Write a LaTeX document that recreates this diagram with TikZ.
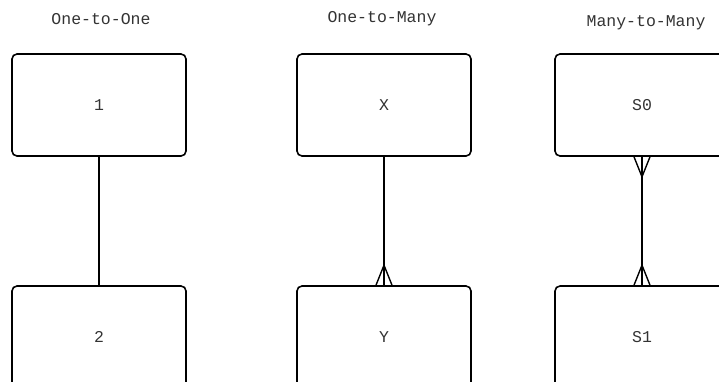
\documentclass[tikz,border=0pt]{standalone}
\usepackage{fontspec}
\setmonofont{Liberation Mono}
\usetikzlibrary{calc}
\begin{document}
\begin{tikzpicture}[x=1pt,y=1pt,
  entity/.style={draw, line width=1.6pt, rounded corners=5pt,
    minimum width=174pt, minimum height=102pt, inner sep=0pt,
    font=\ttfamily\fontsize{16.5}{19}\selectfont, text=black!80},
  heading/.style={font=\ttfamily\fontsize{16.5}{19}\selectfont, text=black!80, inner sep=0pt},
  link/.style={line width=1.4pt},
  foot/.style={line width=1.4pt, line join=miter}]
\useasboundingbox (0,0) rectangle (719,-381);
\clip (0,0) rectangle (719,-381);

% column headings
\node[heading] (h1) at (101,-19) {One-to-One};
\node[heading] (h2) at (382,-19) {One-to-Many};
\node[heading] (h3) at (646,-23) {Many-to-Many};

% entities
\node[entity] (one)  at (99,-105)  {1};
\node[entity] (two)  at (99,-337)  {2};
\node[entity] (x)    at (384,-105) {X};
\node[entity] (y)    at (384,-337) {Y};
\node[entity] (s0)   at (642,-105) {S0};
\node[entity] (s1)   at (642,-337) {S1};

% one-to-one
\draw[link] (one.south) -- (two.north);

% one-to-many: crow's foot at Y
\draw[link] (x.south) -- (y.north);
\draw[foot] ($(y.north)+(-8,0)$) -- ($(y.north)+(0,20)$) -- ($(y.north)+(8,0)$);

% many-to-many: crow's feet at both ends
\draw[link] (s0.south) -- (s1.north);
\draw[foot] ($(s0.south)+(-8,0)$) -- ($(s0.south)+(0,-20)$) -- ($(s0.south)+(8,0)$);
\draw[foot] ($(s1.north)+(-8,0)$) -- ($(s1.north)+(0,20)$) -- ($(s1.north)+(8,0)$);
\end{tikzpicture}
\end{document}
